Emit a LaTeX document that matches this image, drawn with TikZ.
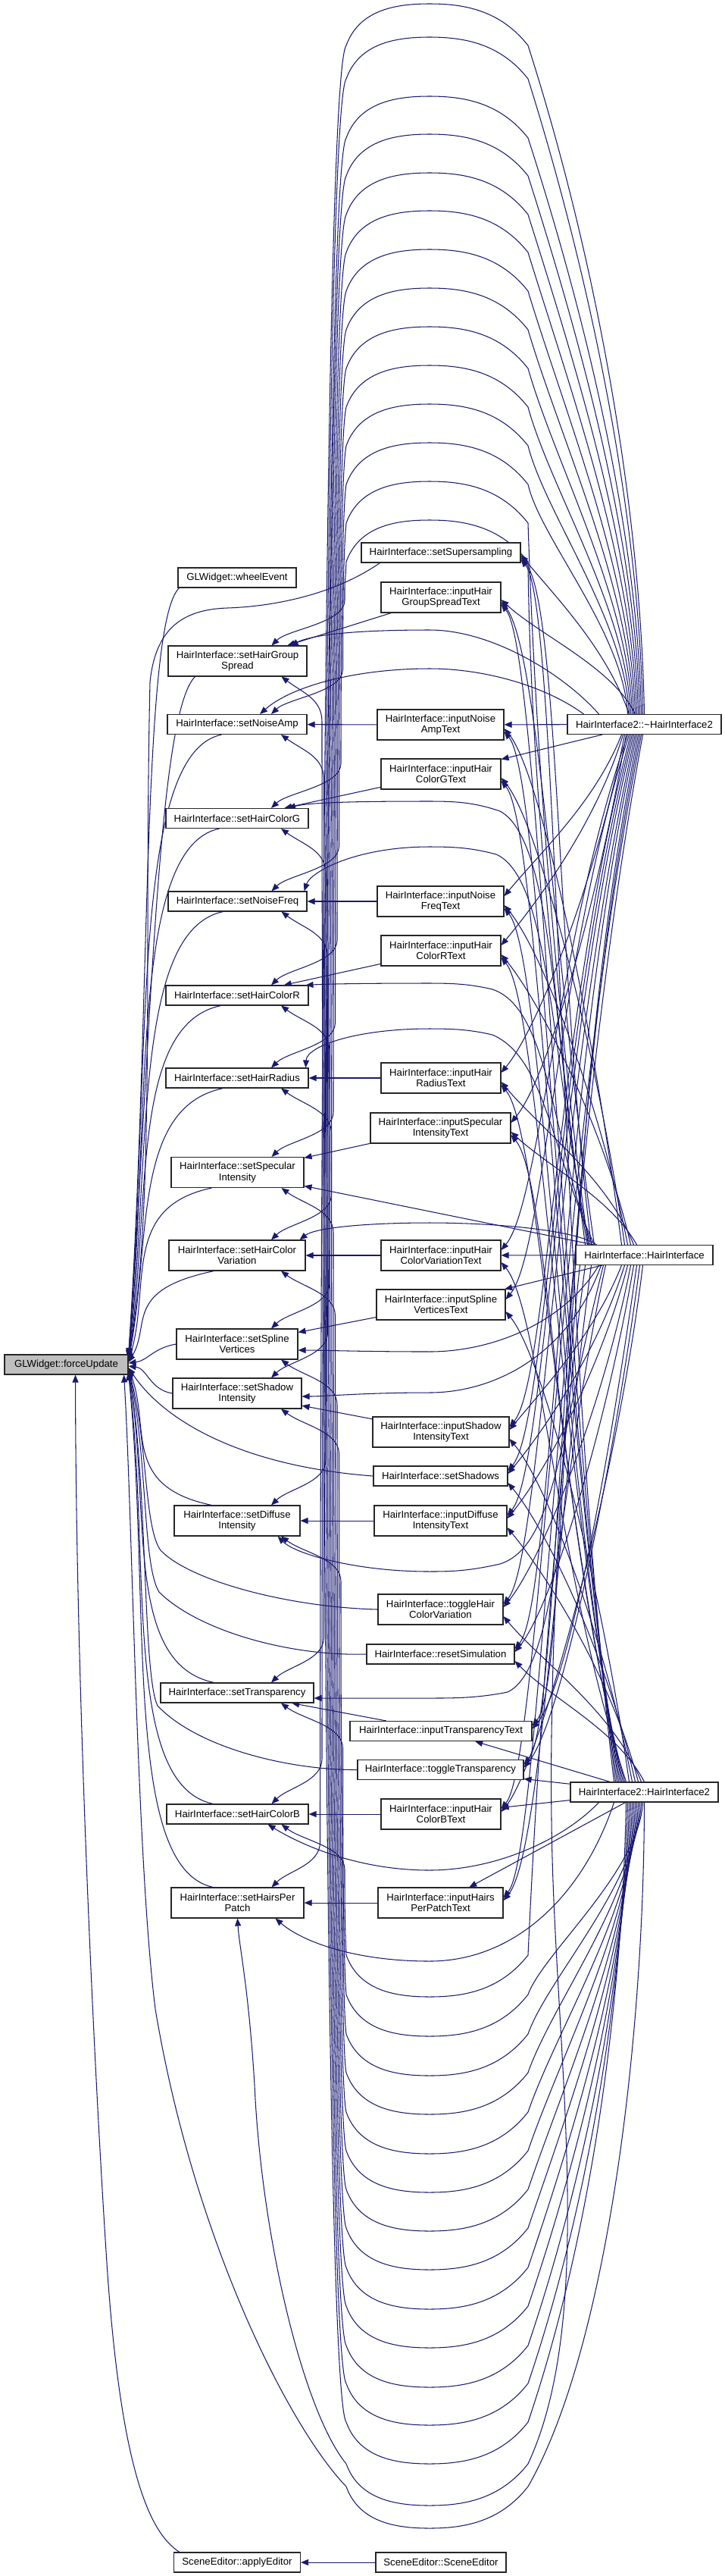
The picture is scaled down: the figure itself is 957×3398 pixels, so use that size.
\documentclass[tikz,border=0pt]{standalone}
\usepackage{fontspec}
\setmainfont{Liberation Sans}
\usetikzlibrary{arrows.meta}
\definecolor{edgec}{HTML}{191970}
\pgfdeclarelayer{bg}
\pgfsetlayers{bg,main}
\tikzset{
  box/.style={draw=black!85, line width=1.1pt, fill=white, inner sep=0pt, align=center, text=black,
    font=\fontsize{13.2}{14.3}\selectfont, minimum height=26pt},
  box2/.style={box, minimum height=40pt},
  edge/.style={draw=edgec, line width=1.05pt, -{Triangle[length=10pt,width=8pt]}},
}
\begin{document}
\begin{tikzpicture}[x=1pt,y=-1pt]
\useasboundingbox (0,0) rectangle (957,3398);
% ---------- column 1
\node[box, fill=black!25, minimum width=163pt] (fu) at (87.5,1800) {GLWidget::forceUpdate};
% ---------- column 2
\node[box, minimum width=156pt] (we) at (313,762) {GLWidget::wheelEvent};
\node[box2, minimum width=183pt] (c1) at (313.5,872) {HairInterface::setHairGroup\\Spread};
\node[box, minimum width=184pt] (c2) at (313,955.5) {HairInterface::setNoiseAmp};
\node[box, minimum width=188pt] (c3) at (313,1079.5) {HairInterface::setHairColorG};
\node[box, minimum width=183pt] (c4) at (313.5,1189) {HairInterface::setNoiseFreq};
\node[box, minimum width=188pt] (c5) at (313,1313) {HairInterface::setHairColorR};
\node[box, minimum width=188pt] (c6) at (313,1422) {HairInterface::setHairRadius};
\node[box2, minimum width=175pt] (c7) at (313.5,1546.5) {HairInterface::setSpecular\\Intensity};
\node[box2, minimum width=180pt] (c8) at (313,1656) {HairInterface::setHairColor\\Variation};
\node[box2, minimum width=160pt] (c9) at (313,1773) {HairInterface::setSpline\\Vertices};
\node[box2, minimum width=170pt] (c10) at (313,1838) {HairInterface::setShadow\\Intensity};
\node[box2, minimum width=166pt] (c11) at (313,2006) {HairInterface::setDiffuse\\Intensity};
\node[box, minimum width=202pt] (c12) at (313,2233) {HairInterface::setTransparency};
\node[box, minimum width=187pt] (c13) at (313.5,2393) {HairInterface::setHairColorB};
\node[box2, minimum width=175pt] (c14) at (313.5,2510) {HairInterface::setHairsPer\\Patch};
\node[box, minimum width=167pt] (ae) at (313,3380) {SceneEditor::applyEditor};
% ---------- column 3
\node[box, minimum width=210pt] (d1) at (582,729) {HairInterface::setSupersampling};
\node[box2, minimum width=158pt] (d2) at (582,788) {HairInterface::inputHair\\GroupSpreadText};
\node[box2, minimum width=167pt] (d3) at (581.5,956) {HairInterface::inputNoise\\AmpText};
\node[box2, minimum width=158pt] (d4) at (582,1021) {HairInterface::inputHair\\ColorGText};
\node[box2, minimum width=167pt] (d5) at (581.5,1189) {HairInterface::inputNoise\\FreqText};
\node[box2, minimum width=158pt] (d6) at (582,1254) {HairInterface::inputHair\\ColorRText};
\node[box2, minimum width=158pt] (d7) at (582,1422) {HairInterface::inputHair\\RadiusText};
\node[box2, minimum width=185pt] (d8) at (581.5,1488) {HairInterface::inputSpecular\\IntensityText};
\node[box2, minimum width=158pt] (d9) at (582,1656) {HairInterface::inputHair\\ColorVariationText};
\node[box2, minimum width=170pt] (d10) at (582,1721) {HairInterface::inputSpline\\VerticesText};
\node[box2, minimum width=180pt] (d11) at (582,1889) {HairInterface::inputShadow\\IntensityText};
\node[box, minimum width=177pt] (d12) at (581.5,1947) {HairInterface::setShadows};
\node[box2, minimum width=175pt] (d13) at (581.5,2006) {HairInterface::inputDiffuse\\IntensityText};
\node[box2, minimum width=165pt] (d14) at (581.5,2123) {HairInterface::toggleHair\\ColorVariation};
\node[box, minimum width=195pt] (d15) at (581.5,2182) {HairInterface::resetSimulation};
\node[box, minimum width=240pt] (d16) at (582,2283.5) {HairInterface::inputTransparencyText};
\node[box, minimum width=219pt] (d17) at (581.5,2334.5) {HairInterface::toggleTransparency};
\node[box2, minimum width=158pt] (d18) at (582,2393) {HairInterface::inputHair\\ColorBText};
\node[box2, minimum width=165pt] (d19) at (581.5,2510) {HairInterface::inputHairs\\PerPatchText};
\node[box, minimum width=172pt] (sse) at (582,3380) {SceneEditor::SceneEditor};
% ---------- column 4
\node[box, minimum width=203pt] (hA) at (850.5,955.5) {HairInterface2::\textasciitilde HairInterface2};
\node[box, minimum width=181pt] (hB) at (850.5,1655.5) {HairInterface::HairInterface};
\node[box, minimum width=195pt] (hC) at (850.5,2364) {HairInterface2::HairInterface2};

\begin{pgfonlayer}{bg}
% ===== edges into forceUpdate
\draw[edge] ([xshift=2pt]we.south west) .. controls +(-50,50) and +(30,-450) .. ([yshift=12pt]fu.east);
\draw[edge] ([xshift=25pt]d1.south west) .. controls (440,785) and (360,800) .. (300,802)
  .. controls (240,804) and (205,830) .. (198,900) .. controls (190,1250) and (205,1600) .. ([yshift=11pt]fu.east);
\draw[edge] ([xshift=36pt]c1.south west) .. controls +(-50,50) and +(30,-420) .. ([yshift=10pt]fu.east);
\draw[edge] ([xshift=72pt]c2.south west) .. controls +(-120,25) and +(30,-400) .. ([yshift=9pt]fu.east);
\draw[edge] ([xshift=71pt]c3.south west) .. controls +(-120,25) and +(30,-313) .. ([yshift=8pt]fu.east);
\draw[edge] ([xshift=73pt]c4.south west) .. controls +(-120,25) and +(30,-263) .. ([yshift=7pt]fu.east);
\draw[edge] ([xshift=73pt]c5.south west) .. controls +(-120,25) and +(30,-207) .. ([yshift=6pt]fu.east);
\draw[edge] ([xshift=76pt]c6.south west) .. controls +(-120,25) and +(30,-158) .. ([yshift=5pt]fu.east);
\draw[edge] ([xshift=54pt]c7.south west) .. controls +(-120,25) and +(30,-99) .. ([yshift=4pt]fu.east);
\draw[edge] ([xshift=60pt]c8.south west) .. controls +(-120,25) and +(30,-50) .. ([yshift=3pt]fu.east);
\draw[edge] (c9.west) .. controls +(-30,5) and +(25,-3) .. ([yshift=2pt]fu.east);
\draw[edge] (c10.west) .. controls +(-30,-5) and +(25,3) .. ([yshift=-2pt]fu.east);
\draw[edge] (d12.west) .. controls (330,1935) and (220,1880) .. ([yshift=-4pt]fu.east);
\draw[edge] ([xshift=50pt]c11.north west) .. controls +(-120,-25) and +(30,78) .. ([yshift=-5pt]fu.east);
\draw[edge] (d14.west) .. controls (380,2120) and (250,2085) .. (212,2045)
  .. controls (190,2015) and (195,1900) .. ([yshift=-6pt]fu.east);
\draw[edge] (d15.west) .. controls (380,2185) and (260,2150) .. (210,2100)
  .. controls (188,2065) and (195,1920) .. ([yshift=-7pt]fu.east);
\draw[edge] ([xshift=71pt]c12.north west) .. controls +(-120,-25) and +(30,183) .. ([yshift=-8pt]fu.east);
\draw[edge] (d17.west) .. controls (380,2335) and (260,2305) .. (208,2250)
  .. controls (188,2210) and (195,1950) .. ([yshift=-9pt]fu.east);
\draw[edge] ([xshift=62pt]c13.north west) .. controls +(-120,-25) and +(30,255) .. ([yshift=-10pt]fu.east);
\draw[edge] ([xshift=56pt]c14.north west) .. controls +(-120,-25) and +(30,305) .. ([yshift=-11pt]fu.east);
\draw[edge] ([xshift=8pt]ae.north west) .. controls (195,3340) and (160,3250) .. (142,3000)
  .. controls (122,2700) and (100,2200) .. ([xshift=-70pt]fu.south east);
\draw[edge] (hC.south) .. controls (850,2700) and (800,3100) .. (697,3280)
  .. controls (660,3327) and (612,3335) .. (567,3335) .. controls (522,3335) and (474,3327) .. (457,3280)
  .. controls (380,3200) and (255,2950) .. (205,2650) .. controls (180,2450) and (175,2000) .. ([xshift=-6pt]fu.south east);
% ===== input texts into setters
\foreach \aa/\bb in {d2/c1, d3/c2, d4/c3, d5/c4, d6/c5, d7/c6, d8/c7, d9/c8, d10/c9, d11/c10, d13/c11, d16/c12, d18/c13, d19/c14, sse/ae}
  \draw[edge] (\aa) -- (\bb);
% ===== column 4 into column 3
\draw[edge] (hA) -- (d3);
\draw[edge] (hA) -- (d4);
\foreach \tg/\ty/\kk in {d1/729/-20, d2/788/-12}
  \draw[edge] ([xshift=\kk pt]hA.north) .. controls +(-30,{-0.4*(943-\ty)}) and +(50,{min(0.3*(943-\ty),60)}) .. ([yshift=-3pt]\tg.east);
\foreach \tg/\ty/\kk in {d5/1189/-30, d6/1254/-28, d7/1422/-26, d8/1488/-24}
  \draw[edge] ([xshift=\kk pt]hA.south) .. controls +(-35,{0.4*(\ty-968)}) and +(50,{-min(0.3*(\ty-968),60)}) .. ([yshift=7pt]\tg.east);
\foreach \tg/\ty/\kk in {d9/1656/-22, d10/1721/-20, d11/1889/-18, d12/1947/-16, d13/2006/-14, d14/2123/-12, d15/2182/-10, d16/2283.5/-8, d17/2334.5/-6, d18/2393/-4, d19/2510/-2}
  \draw[edge] ([xshift=\kk pt]hA.south) .. controls (735,{968+0.4*(\ty-968)}) and +(50,-60) .. ([yshift=7pt]\tg.east);
\draw[edge] (hB) -- (d9);
\draw[edge] (hB) -- (d10);
\foreach \tg/\ty/\kk in {d1/729/-70, d2/788/-66}
  \draw[edge] ([xshift=\kk pt]hB.north) .. controls (735,{1643-0.4*(1643-\ty)}) and +(50,60) .. ([yshift=-6pt]\tg.east);
\foreach \tg/\ty/\kk in {d3/956/-30, d4/1021/-26, d5/1189/-22, d6/1254/-18, d7/1422/-14, d8/1488/-10}
  \draw[edge] ([xshift=\kk pt]hB.north) .. controls +(-35,{-0.4*(1643-\ty)}) and +(50,{min(0.3*(1643-\ty),60)}) .. ([yshift=-5pt]\tg.east);
\foreach \tg/\ty/\kk in {d11/1889/-30, d12/1947/-26, d13/2006/-22, d14/2123/-18, d15/2182/-14, d16/2283.5/-10, d17/2334.5/-6, d18/2393/-2}
  \draw[edge] ([xshift=\kk pt]hB.south) .. controls +(-35,{0.4*(\ty-1668)}) and +(50,{-min(0.3*(\ty-1668),60)}) .. ([yshift=3pt]\tg.east);
\draw[edge] ([xshift=-70pt]hB.south) .. controls (735,2005) and +(50,-60) .. ([yshift=3pt]d19.east);
\foreach \tg in {d16,d17,d18,d19}
  \draw[edge] (hC) -- (\tg);
\foreach \tg/\ty/\kk in {d1/729/-40, d2/788/-38, d3/956/-36, d4/1021/-34, d5/1189/-32, d6/1254/-30, d7/1422/-28, d8/1488/-26, d9/1656/-24}
  \draw[edge] ([xshift=\kk pt]hC.north) .. controls (735,{2352-0.4*(2352-\ty)}) and +(50,{min(0.3*(2352-\ty),60)}) .. ([yshift=-9pt]\tg.east);
\foreach \tg/\ty/\kk in {d10/1721/-20, d11/1889/-16, d12/1947/-12, d13/2006/-8, d14/2123/-4, d15/2182/0}
  \draw[edge] ([xshift=\kk pt]hC.north) .. controls +(-35,{-0.4*(2352-\ty)}) and +(50,{min(0.3*(2352-\ty),60)}) .. ([yshift=-9pt]\tg.east);
% ===== column 4 into column 2: through gaps of column 3
\draw[edge] ([xshift=-60pt]hA.north) .. controls (745,890) and (650,831) .. (567,831) .. controls (480,831) and (415,836) .. ([xshift=70pt]c1.north);
\draw[edge] ([xshift=-80pt]hA.north) .. controls (720,905) and (640,882) .. (567,882) .. controls (470,882) and (385,905) .. ([xshift=30pt]c2.north);
\draw[edge] ([xshift=-75pt]hB.north) .. controls (730,1400) and (735,1110) .. (660,1070) .. controls (625,1058) and (600,1057) .. (567,1057) .. controls (480,1057) and (410,1058) .. ([xshift=67pt]c3.north);
\draw[edge] ([xshift=-72pt]hB.north) .. controls (728,1420) and (730,1160) .. (655,1127) .. controls (622,1118) and (598,1117) .. (567,1117) .. controls (470,1117) and (410,1150) .. ([xshift=-4pt]c4.north east);
\draw[edge] ([xshift=-69pt]hB.north) .. controls (728,1500) and (725,1330) .. (650,1305) .. controls (620,1298) and (598,1297) .. (567,1297) .. controls (480,1297) and (430,1298) .. ([xshift=-4pt]c5.north east);
\draw[edge] ([xshift=-66pt]hB.north) .. controls (728,1520) and (720,1395) .. (650,1365) .. controls (620,1358) and (598,1357) .. (567,1357) .. controls (470,1357) and (405,1380) .. ([xshift=-4pt]c6.north east);
\draw[edge] (hB) -- (c7);
\draw[edge] ([xshift=-63pt]hB.north) .. controls (760,1622) and (650,1613) .. (567,1613) .. controls (480,1613) and (415,1620) .. ([xshift=-8pt]c8.north east);
\draw[edge] ([xshift=-60pt]hB.south) .. controls (745,1745) and (650,1783) .. (567,1783) .. controls (480,1783) and (425,1781) .. ([yshift=-8pt]c9.east);
\draw[edge] ([xshift=-57pt]hB.south) .. controls (750,1790) and (650,1837) .. (567,1837) .. controls (480,1837) and (430,1842) .. ([yshift=-4pt]c10.east);
\draw[edge] ([xshift=-54pt]hB.south) .. controls (738,1900) and (732,2040) .. (660,2063) .. controls (620,2072) and (598,2073) .. (567,2073) .. controls (470,2073) and (390,2050) .. ([xshift=-30pt]c11.south east);
\draw[edge] ([xshift=-51pt]hB.south) .. controls (738,1950) and (738,2200) .. (670,2232) .. controls (630,2240) and (600,2240) .. (567,2240) .. controls (480,2240) and (440,2240) .. ([yshift=-7pt]c12.east);
\draw[edge] ([xshift=-60pt]hC.south) .. controls (740,2430) and (650,2467) .. (567,2467) .. controls (470,2467) and (395,2432) .. ([xshift=40pt]c13.south);
\draw[edge] ([xshift=-40pt]hC.south) .. controls (770,2500) and (680,2587) .. (567,2587) .. controls (470,2587) and (400,2562) .. ([xshift=50pt]c14.south);
% ===== column 4 into column 2: loops over the top
\foreach \src/\shx/\spy/\cxx/\tg/\vy/\lx/\rx/\ttop in {
  hB/-78/1643/735/c1/686/455/700/852,
  hB/-74/1643/735/c2/635/452.5/706.5/943,
  hA/-22/943/823.5/c3/584/450/713/1067,
  hA/-20/943/825.5/c4/533/447.5/719.5/1176,
  hA/-18/943/827.5/c5/482/445/726/1300,
  hA/-16/943/829.5/c6/431/442.5/732.5/1409,
  hA/-14/943/831.5/c7/380/440/739/1527,
  hA/-12/943/833.5/c8/329/437.5/745.5/1636,
  hA/-10/943/835.5/c9/278/435/752/1753,
  hA/-8/943/837.5/c10/228/432.5/758.5/1818,
  hA/-6/943/839.5/c11/177/430/765/1986,
  hA/-4/943/841.5/c12/127/427.5/771.5/2220,
  hA/-2/943/843.5/c13/49/425/778/2380,
  hA/0/943/845.5/c14/5/422.5/784.5/2490}
  \draw[edge] ([xshift=\shx pt]\src.north) .. controls (\cxx,{\spy-0.3*(\spy-\vy)}) and (\rx,{\vy+0.35*(\spy-\vy)}) .. (697,{\vy+55})
    .. controls (660,{\vy+8}) and (612,\vy) .. (567,\vy) .. controls (522,\vy) and (474,{\vy+8}) .. (457,{\vy+55})
    .. controls (\lx,{\vy+100}) and (\lx,{\ttop-100}) .. (\lx,{\ttop-60})
    .. controls (\lx,{\ttop-30}) and (380,{\ttop-22}) .. ([xshift=45pt]\tg.north);
% ===== column 4 into column 2: loops under the bottom
\foreach \src/\shx/\spy/\cxx/\tg/\vy/\lx/\rx/\tbot in {
  hC/-24/2376/821.5/c1/3250/425/782/892,
  hC/-22/2376/823.5/c2/3199/427.5/776/968,
  hC/-20/2376/825.5/c3/3149/430/770/1092,
  hC/-18/2376/827.5/c4/3097/432.5/764/1202,
  hC/-16/2376/829.5/c5/3046/435/758/1326,
  hC/-14/2376/831.5/c6/2994/437.5/752/1435,
  hC/-12/2376/833.5/c7/2943/440/746/1566,
  hC/-10/2376/835.5/c8/2892/442.5/740/1676,
  hC/-8/2376/837.5/c9/2841/445/734/1793,
  hC/-6/2376/839.5/c10/2789/447.5/728/1858,
  hC/-4/2376/841.5/c11/2738/450/722/2026,
  hC/-2/2376/843.5/c12/2686/452.5/716/2246,
  hB/-78/1668/735/c13/2634/455/710/2406}
  \draw[edge] ([xshift=\shx pt]\src.south) .. controls (\cxx,{\spy+0.3*(\vy-\spy)}) and (\rx,{\vy-0.35*(\vy-\spy)}) .. (697,{\vy-55})
    .. controls (660,{\vy-8}) and (612,\vy) .. (567,\vy) .. controls (522,\vy) and (474,{\vy-8}) .. (457,{\vy-55})
    .. controls (\lx,{\vy-100}) and (\lx,{\tbot+100}) .. (\lx,{\tbot+60})
    .. controls (\lx,{\tbot+30}) and (400,{\tbot+22}) .. ([xshift=58pt]\tg.south);
\draw[edge] ([xshift=-85pt]hB.south) .. controls (740,1900) and (725,2200) .. (728,2400)
  .. controls (731,2700) and (790,3050) .. (697,3250)
  .. controls (660,3297) and (612,3305) .. (567,3305) .. controls (522,3305) and (474,3297) .. (457,3250)
  .. controls (400,3180) and (345,2950) .. (336,2750) .. controls (328,2620) and (316,2570) .. (c14.south);
\end{pgfonlayer}
\end{tikzpicture}
\end{document}
